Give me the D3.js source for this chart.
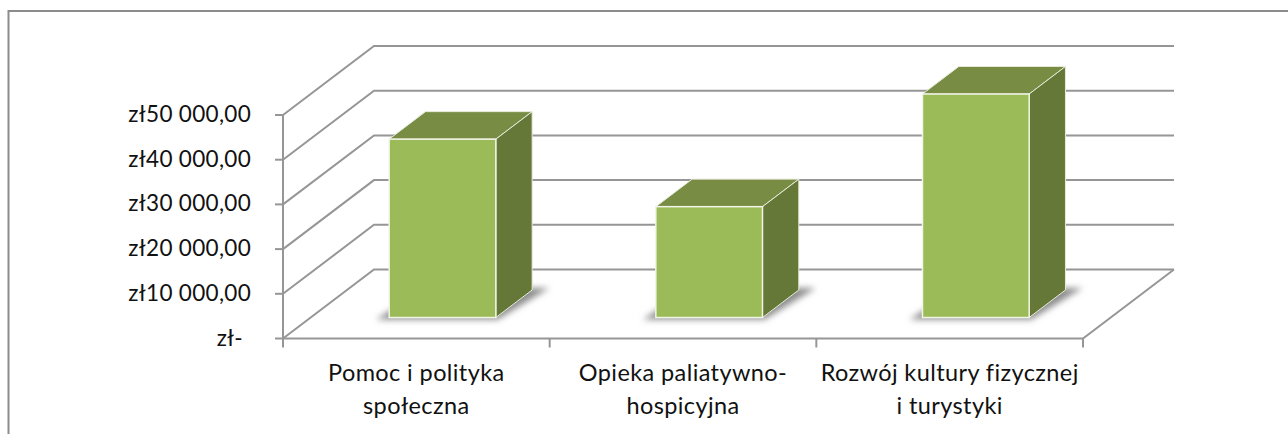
<!DOCTYPE html>
<html>
<head>
<meta charset="utf-8">
<script src="https://d3js.org/d3.v7.min.js"></script>
<style>
  html, body { margin: 0; padding: 0; background: #fff; }
  svg { display: block; }
  text { font-family: Lato, "Noto Sans", sans-serif; fill: #111; }
  .ylabel { font-size: 22.5px; letter-spacing: 0.3px; }
  .xlabel { font-size: 23.5px; letter-spacing: 0.4px; }
</style>
</head>
<body>
<svg id="chart" width="1288" height="434"></svg>
<script>
const categories = [["Pomoc i polityka", "społeczna"], ["Opieka paliatywno-", "hospicyjna"], ["Rozwój kultury fizycznej", "i turystyki"]];
const values = [39900, 24800, 50000];
const tickValues = [0, 10000, 20000, 30000, 40000, 50000];
const tickLabels = ["zł-", "zł10 000,00", "zł20 000,00", "zł30 000,00", "zł40 000,00", "zł50 000,00"];

const svg = d3.select("#chart");

// frame, no right or bottom edge in the picture
svg.append("path")
  .attr("d", "M8.5,434V11H1288")
  .attr("fill", "none").attr("stroke", "#8c8c8c").attr("stroke-width", 2);

const x = d3.scaleBand().domain(d3.range(categories.length)).range([283, 1083]);
const y = d3.scaleLinear().domain([0, 50000]).range([338.5, 115]);

// how far a point at a given depth (0 = front, 1 = back) moves on screen
const depthX = d3.scaleLinear().domain([0, 1]).range([0, 91]);
const depthY = d3.scaleLinear().domain([0, 1]).range([0, -69]);
const barFront = 0.304, barBack = 0.703;

const defs = svg.append("defs");
defs.append("filter").attr("id", "blur").attr("x", "-20%").attr("width", "140%")
  .attr("y", "-50%").attr("height", "200%")
  .append("feGaussianBlur").attr("stdDeviation", 3);

const gridColor = "#969696";

// gridlines: back wall + side wall
const grid = svg.append("g").attr("fill", "none").attr("stroke", gridColor).attr("stroke-width", 2);
grid.selectAll("path").data(tickValues).join("path")
  .attr("d", d => `M${x.range()[0]},${y(d)}L${x.range()[0] + depthX(1)},${y(d) + depthY(1)}H${x.range()[1] + depthX(1)}`);

// floor and axes
grid.append("path").attr("d", `M${x.range()[0]},${y(50000)}V${y(0)}H${x.range()[1]}L${x.range()[1] + depthX(1)},${y(0) + depthY(1)}`);

// tick marks
grid.selectAll(".ytick").data(tickValues).join("line").attr("class", "ytick")
  .attr("x1", x.range()[0] - 8).attr("x2", x.range()[0]).attr("y1", d => y(d)).attr("y2", d => y(d));
grid.selectAll(".xtick").data(d3.range(categories.length + 1)).join("line").attr("class", "xtick")
  .attr("x1", i => x.range()[0] + i * x.step()).attr("x2", i => x.range()[0] + i * x.step())
  .attr("y1", y(0)).attr("y2", y(0) + 9);

// y labels
svg.selectAll(".ylabel").data(tickValues).join("text").attr("class", "ylabel")
  .attr("x", (d, i) => i === 0 ? 243 : 251).attr("y", d => y(d) + 7)
  .attr("text-anchor", "end")
  .text((d, i) => tickLabels[i]);

// category labels
const labels = svg.selectAll(".xlabel").data(categories).join("text").attr("class", "xlabel")
  .attr("text-anchor", "middle");
labels.selectAll("tspan").data((d, i) => d.map(t => ({ t, i }))).join("tspan")
  .attr("x", d => x(d.i) + x.bandwidth() / 2)
  .attr("y", (d, j) => 381 + j * 33)
  .text(d => d.t);

// bars
const barWidth = 0.4 * x.step();
const bars = svg.selectAll(".bar").data(values).join("g").attr("class", "bar");

function pts(list) { return list.map(p => p.join(",")).join(" "); }

bars.each(function (v, i) {
  const g = d3.select(this);
  const x0 = x(i) + 0.4 * x.step() - 0.5, x1 = x0 + barWidth;
  const fx = depthX(barFront), fy = depthY(barFront);
  const bx = depthX(barBack), by = depthY(barBack);
  const bottom = y(0) + fy, top = y(v) + fy;
  const sdx = bx - fx, sdy = by - fy;

  // soft shadow on the floor, same footprint as the bar but pushed out sideways
  g.append("polygon")
    .attr("points", pts([[x0 - 13, bottom + 2], [x1 + 2, bottom + 2], [x1 + sdx + 17, bottom + sdy - 2], [x0 + sdx, bottom + sdy - 2]]))
    .attr("fill", "#8c8c8c").attr("filter", "url(#blur)");

  // top
  g.append("polygon")
    .attr("points", pts([[x0, top], [x1, top], [x1 + sdx, top + sdy], [x0 + sdx, top + sdy]]))
    .attr("fill", "#788c44").attr("stroke", "#e6ead8").attr("stroke-width", 1);
  // side
  g.append("polygon")
    .attr("points", pts([[x1, top], [x1 + sdx, top + sdy], [x1 + sdx, bottom + sdy], [x1, bottom]]))
    .attr("fill", "#667837").attr("stroke", "#e6ead8").attr("stroke-width", 1);
  // front
  g.append("rect")
    .attr("x", x0).attr("y", top).attr("width", barWidth).attr("height", bottom - top)
    .attr("fill", "#9bbb59").attr("stroke", "#f1f4e6").attr("stroke-width", 1.5);
});
</script>
</body>
</html>
